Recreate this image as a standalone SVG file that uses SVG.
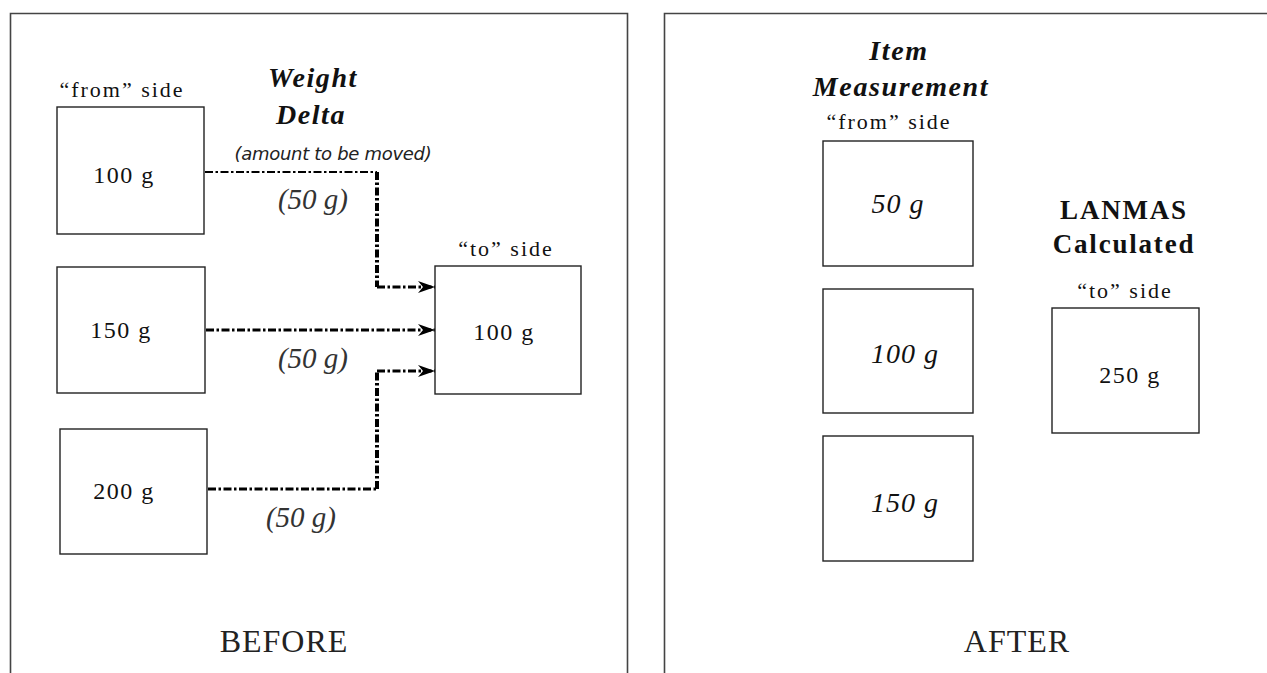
<svg xmlns="http://www.w3.org/2000/svg" width="1267" height="673" viewBox="0 0 1267 673">
<style>
  .frame { fill: none; stroke: #444; stroke-width: 1.6; }
  .box { fill: #fff; stroke: #222; stroke-width: 1.4; }
  .t { font-family: "Liberation Serif", "Times New Roman", serif; fill: #111; text-anchor: middle; }
  .lbl { font-size: 22px; letter-spacing: 2px; }
  .val { font-size: 24px; letter-spacing: 1.5px; }
  .ival { font-size: 28px; font-style: italic; letter-spacing: 1px; }
  .head { font-size: 28px; font-weight: bold; font-style: italic; letter-spacing: 1.6px; }
  .bhead { font-size: 27px; font-weight: bold; letter-spacing: 1.8px; }
  .delta { font-size: 29px; font-style: italic; fill: #333; }
  .note { font-family: "DejaVu Sans", "Liberation Sans", sans-serif; font-size: 18px; font-style: italic; fill: #222; text-anchor: middle; letter-spacing: -0.3px; }
  .cap { font-size: 32px; letter-spacing: 1px; fill: #222; }
  .conn { fill: none; stroke: #000; stroke-width: 3; stroke-dasharray: 8 2.5 2.5 2.5; }
  .thin { stroke-width: 2; }
  .thick { stroke-width: 4; }
</style>
<defs>
  <marker id="arrow" markerUnits="userSpaceOnUse" markerWidth="18" markerHeight="13" refX="17" refY="6" orient="auto">
    <path d="M0,0 L17,6 L0,12 L5,6 z" fill="#000"/>
  </marker>
</defs>

<g id="frames">
  <path class="frame" d="M10.5,673 V13.5 H627.5 V673"/>
  <path class="frame" d="M664.5,673 V13.5 H1267"/>
</g>

<g id="before-labels">
  <text class="t lbl" x="122" y="97">“from” side</text>
  <text class="t head" x="313" y="87">Weight</text>
  <text class="t head" x="311" y="124">Delta</text>
  <text class="note" x="333" y="160">(amount to be moved)</text>
  <text class="t lbl" x="506" y="256">“to” side</text>
  <text class="t cap" x="284" y="652">BEFORE</text>
</g>

<g id="connectors">
  <g id="conn-100">
    <path class="conn thin" d="M205,172 H377"/>
    <path class="conn thick" d="M377,172 V287"/>
    <path class="conn" d="M377,287 H435" marker-end="url(#arrow)"/>
  </g>
  <g id="conn-150">
    <path class="conn" d="M206,330 H435" marker-end="url(#arrow)"/>
  </g>
  <g id="conn-200">
    <path class="conn" d="M208,489 H377"/>
    <path class="conn thick" d="M377,489 V371"/>
    <path class="conn" d="M377,371 H435" marker-end="url(#arrow)"/>
  </g>
  <text class="t delta" x="313" y="209">(50 g)</text>
  <text class="t delta" x="313" y="368">(50 g)</text>
  <text class="t delta" x="301" y="527">(50 g)</text>
</g>

<g id="from-100">
  <rect class="box" x="57" y="107" width="147" height="127"/>
  <text class="t val" x="124" y="183">100 g</text>
</g>
<g id="from-150">
  <rect class="box" x="57" y="267" width="148" height="126"/>
  <text class="t val" x="121" y="338">150 g</text>
</g>
<g id="from-200">
  <rect class="box" x="60" y="429" width="147" height="125"/>
  <text class="t val" x="124" y="499">200 g</text>
</g>
<g id="to-100">
  <rect class="box" x="435" y="266" width="146" height="128"/>
  <text class="t val" x="504" y="340">100 g</text>
</g>

<g id="after-labels">
  <text class="t head" x="899" y="60">Item</text>
  <text class="t head" x="901" y="96">Measurement</text>
  <text class="t lbl" x="889" y="129">“from” side</text>
  <text class="t bhead" x="1124" y="219">LANMAS</text>
  <text class="t bhead" x="1124" y="253">Calculated</text>
  <text class="t lbl" x="1125" y="298">“to” side</text>
  <text class="t cap" x="1017" y="652">AFTER</text>
</g>

<g id="item-50">
  <rect class="box" x="823" y="141" width="150" height="125"/>
  <text class="t ival" x="898" y="213">50 g</text>
</g>
<g id="item-100">
  <rect class="box" x="823" y="289" width="150" height="124"/>
  <text class="t ival" x="905" y="363">100 g</text>
</g>
<g id="item-150">
  <rect class="box" x="823" y="436" width="150" height="125"/>
  <text class="t ival" x="905" y="512">150 g</text>
</g>
<g id="calc-250">
  <rect class="box" x="1052" y="308" width="147" height="125"/>
  <text class="t val" x="1130" y="383">250 g</text>
</g>
</svg>
